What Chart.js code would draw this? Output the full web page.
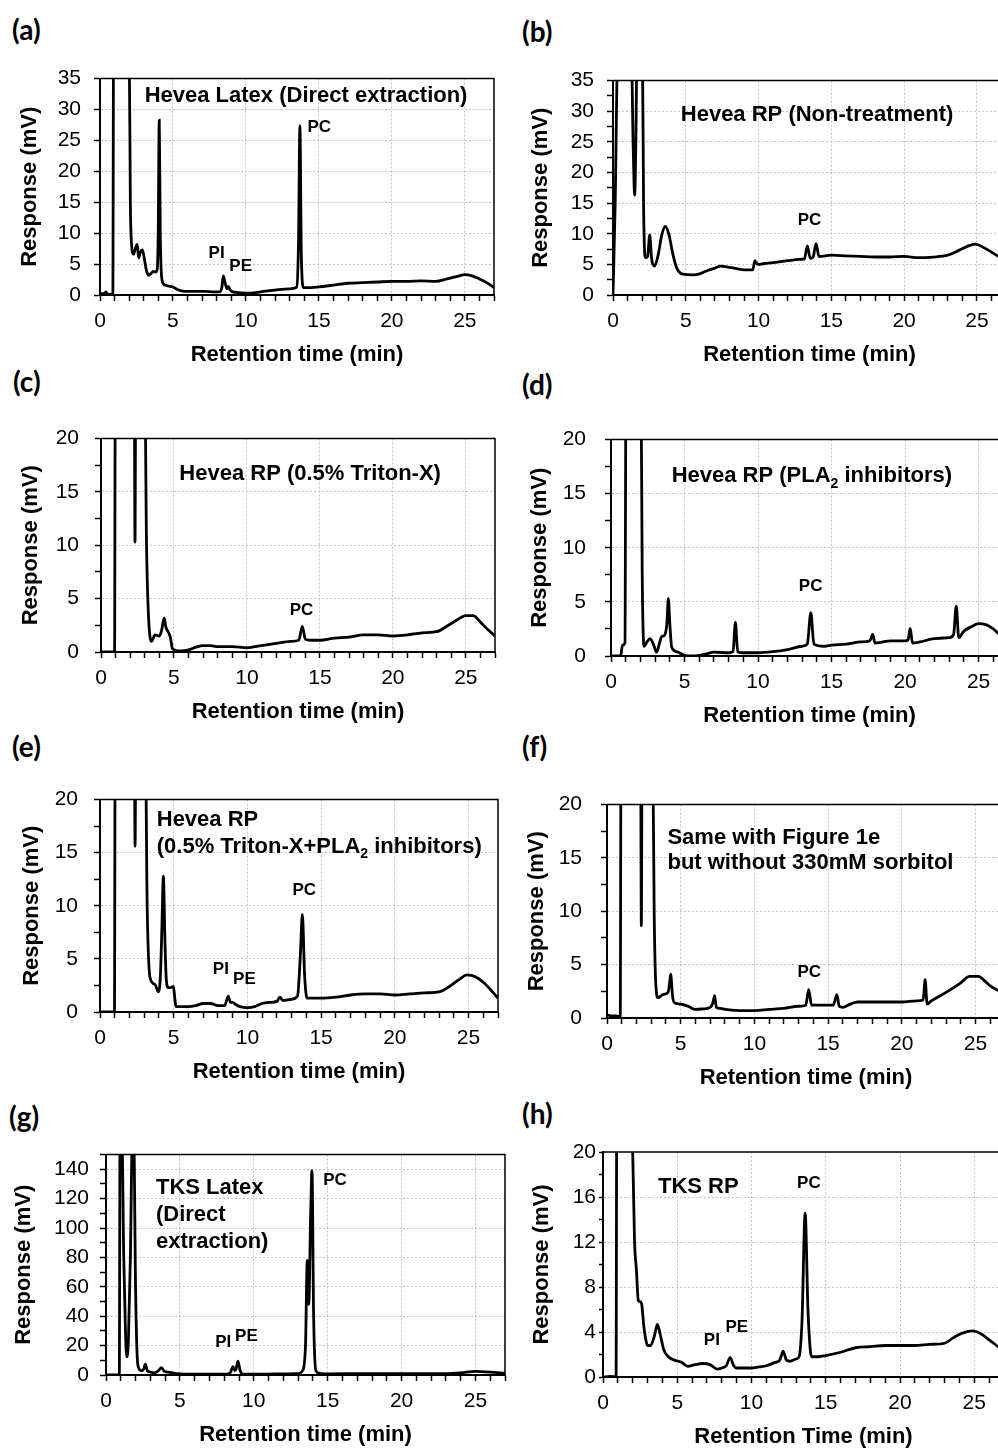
<!DOCTYPE html>
<html>
<head>
<meta charset="utf-8">
<title>Chromatograms</title>
<script src="https://cdn.jsdelivr.net/npm/chart.js@4.4.0/dist/chart.umd.min.js"></script>
<style>
  html, body { margin: 0; padding: 0; background: #fff; }
  body { width: 998px; height: 1448px; position: relative; overflow: hidden; }
  canvas { position: absolute; }
  .tag { position: absolute; font-family: Lato, 'Open Sans', sans-serif; font-weight: 700; font-size: 28px; line-height: 1; color: #000; }
</style>
</head>
<body>
<div class="tag" style="left:12px;top:15px">(a)</div>
<div class="tag" style="left:522px;top:17px">(b)</div>
<div class="tag" style="left:13px;top:367px">(c)</div>
<div class="tag" style="left:522px;top:370px">(d)</div>
<div class="tag" style="left:12px;top:732px">(e)</div>
<div class="tag" style="left:522px;top:732px">(f)</div>
<div class="tag" style="left:9px;top:1102px">(g)</div>
<div class="tag" style="left:522px;top:1099px">(h)</div>

<script>
// ---- data (retention time in min, response in mV) ----
const aTime = [0, 0.3, 0.4, 0.5, 0.88, 0.93, 2.0, 2.08, 2.17, 2.3, 2.42, 2.55, 2.65, 2.75, 2.9, 3.0, 3.1, 3.2, 3.35, 3.5, 3.65, 3.8, 3.92, 3.99, 4.06, 4.13, 4.22, 4.35, 4.6, 5.0, 5.3, 5.8, 6.5, 7.2, 7.8, 8.2, 8.35, 8.45, 8.55, 8.7, 8.8, 8.9, 9.1, 9.5, 10, 11, 12, 13, 13.45, 13.6, 13.7, 13.8, 13.95, 14.5, 15, 16, 17, 18, 19, 20, 21, 22, 23, 23.8, 24.5, 25, 25.5, 26, 26.5, 27];
const aResp = [0.2, 0.2, 0.5, 0.2, 0.1, 40, 40, 15, 8.0, 6.6, 7.5, 8.2, 6.0, 6.8, 7.3, 6.4, 5.0, 3.8, 3.2, 3.5, 3.8, 3.7, 4.2, 10, 28.3, 10, 3.0, 1.8, 1.5, 1.3, 0.9, 0.6, 0.6, 0.6, 0.5, 0.5, 1.2, 3.1, 2.2, 1.0, 1.4, 0.9, 0.5, 0.4, 0.3, 0.5, 0.8, 1.0, 1.2, 8, 27.4, 6, 1.2, 1.2, 1.3, 1.6, 1.9, 2.0, 2.1, 2.2, 2.2, 2.3, 2.2, 2.6, 3.0, 3.3, 3.1, 2.6, 2.0, 1.2];

const bTime = [0, 0.15, 0.33, 0.4, 1.26, 1.38, 1.49, 1.57, 1.65, 2.02, 2.1, 2.22, 2.38, 2.52, 2.65, 2.85, 3.1, 3.35, 3.6, 3.85, 4.1, 4.4, 4.8, 5.5, 6.0, 6.5, 7.0, 7.4, 7.8, 8.5, 9.0, 9.6, 9.75, 9.95, 10.3, 11, 12, 12.8, 13.15, 13.35, 13.55, 13.75, 13.95, 14.15, 15, 16, 17, 18, 19, 20, 21, 22, 23, 23.7, 24.3, 24.9, 25.5, 26, 26.5, 27];
const bResp = [0, 15, 40, 40, 40, 25, 16.3, 25, 40, 40, 15, 6.1, 6.3, 9.8, 6.0, 4.7, 6.5, 9.8, 11.2, 9.8, 6.8, 4.3, 3.4, 3.3, 3.5, 4.0, 4.4, 4.7, 4.6, 4.3, 4.1, 4.1, 5.6, 5.0, 5.1, 5.3, 5.6, 5.8, 5.9, 8.0, 6.0, 6.2, 8.4, 6.3, 6.5, 6.4, 6.3, 6.2, 6.2, 6.3, 6.1, 6.2, 6.5, 7.2, 7.9, 8.3, 7.7, 7.0, 6.3, 5.8];

const cTime = [0, 0.93, 0.98, 2.28, 2.33, 2.38, 3.0, 3.12, 3.25, 3.47, 3.7, 4.0, 4.15, 4.33, 4.45, 4.6, 4.75, 4.9, 5.5, 6.0, 6.5, 7.0, 7.5, 8.0, 9.0, 10, 11, 12, 13, 13.55, 13.8, 14.0, 14.5, 15, 16, 17, 18, 19, 20, 21, 22, 23, 23.8, 24.5, 25.0, 25.5, 26, 26.5, 27];
const cResp = [0, 0, 25, 25, 10.3, 25, 25, 10, 3.5, 1.0, 1.6, 1.5, 2.0, 3.2, 2.3, 1.9, 1.4, 0.3, 0.1, 0.2, 0.45, 0.6, 0.6, 0.5, 0.5, 0.4, 0.6, 0.8, 1.0, 1.1, 2.4, 1.2, 1.1, 1.1, 1.3, 1.4, 1.6, 1.6, 1.5, 1.6, 1.8, 1.9, 2.5, 3.1, 3.4, 3.4, 2.8, 2.1, 1.5];

const dTime = [0, 0.66, 0.78, 0.95, 1.02, 1.08, 2.04, 2.12, 2.25, 2.45, 2.65, 2.88, 3.1, 3.3, 3.45, 3.63, 3.8, 3.9, 4.0, 4.13, 4.47, 5.0, 5.5, 6.0, 6.5, 7.0, 8.0, 8.3, 8.46, 8.62, 9.0, 10, 11, 12, 13, 13.35, 13.59, 13.8, 14.5, 15, 16, 17, 17.6, 17.8, 17.95, 18.5, 19, 20, 20.2, 20.35, 20.5, 21, 22, 23, 23.3, 23.48, 23.65, 24, 24.5, 25, 25.5, 26, 26.5, 27];
const dResp = [0, 0, 1.0, 1.2, 25, 25, 25, 8, 0.9, 1.3, 1.6, 1.1, 0.35, 1.2, 1.8, 1.9, 3.0, 5.3, 3.0, 0.8, 0.4, 0.06, 0.0, 0.05, 0.2, 0.35, 0.3, 0.4, 3.1, 0.4, 0.3, 0.3, 0.4, 0.6, 0.9, 1.1, 4.0, 1.1, 0.9, 1.0, 1.1, 1.3, 1.4, 2.0, 1.2, 1.3, 1.4, 1.4, 1.5, 2.55, 1.2, 1.3, 1.6, 1.7, 2.0, 4.6, 1.7, 2.3, 2.7, 3.0, 2.9, 2.5, 1.9, 1.5];

const eTime = [0, 0.98, 1.03, 2.33, 2.38, 2.43, 3.08, 3.2, 3.4, 3.73, 3.96, 4.1, 4.2, 4.3, 4.4, 4.5, 4.64, 4.8, 4.98, 5.08, 5.16, 5.5, 6.0, 6.5, 7.0, 7.5, 8.0, 8.45, 8.7, 8.85, 9.0, 9.2, 9.5, 10, 10.5, 11, 11.5, 12.0, 12.2, 12.4, 13.0, 13.4, 13.58, 13.73, 13.88, 14.05, 14.5, 15, 16, 17, 18, 19, 20, 21, 22, 23, 23.8, 24.4, 24.9, 25.5, 26, 26.5, 27];
const eResp = [0, 0, 25, 25, 15.6, 25, 25, 10, 3.2, 2.6, 1.9, 3.5, 8, 12.8, 7, 3, 2.3, 2.3, 2.4, 1.2, 0.5, 0.5, 0.5, 0.6, 0.8, 0.8, 0.6, 0.6, 1.5, 0.9, 0.9, 0.7, 0.5, 0.4, 0.5, 0.8, 0.9, 1.0, 1.4, 1.1, 1.2, 1.5, 5, 9.2, 3.5, 1.3, 1.3, 1.3, 1.4, 1.6, 1.7, 1.7, 1.6, 1.7, 1.8, 1.9, 2.5, 3.1, 3.5, 3.3, 2.8, 2.1, 1.3];

const fTime = [0, 0.3, 0.6, 0.9, 0.95, 1.0, 2.28, 2.33, 2.38, 3.1, 3.2, 3.3, 3.46, 3.8, 4.14, 4.24, 4.32, 4.45, 4.6, 5.0, 5.5, 6.0, 6.5, 7.0, 7.18, 7.3, 7.42, 7.7, 8.0, 9.0, 10, 11, 12, 13, 13.48, 13.68, 13.88, 14.5, 15.35, 15.6, 15.75, 16.0, 16.5, 17, 18, 19, 20, 21, 21.45, 21.58, 21.72, 22.0, 23, 24, 24.6, 25.2, 25.6, 26, 26.5, 27];
const fResp = [0.3, 0.2, 0.2, 0.1, 25, 25, 25, 8.65, 25, 25, 10, 3.5, 1.9, 2.2, 2.4, 3.2, 4.1, 2.0, 1.4, 1.3, 1.1, 0.8, 0.85, 1.0, 1.4, 2.1, 1.0, 0.9, 0.8, 0.7, 0.7, 0.8, 0.9, 1.1, 1.2, 2.65, 1.2, 1.2, 1.2, 2.2, 1.1, 1.0, 1.3, 1.5, 1.5, 1.5, 1.5, 1.6, 1.7, 3.6, 1.3, 1.6, 2.4, 3.3, 3.9, 3.9, 3.5, 3.0, 2.6, 2.3];

const gTime = [0, 0.9, 0.95, 1.08, 1.2, 1.33, 1.42, 1.52, 1.65, 1.78, 1.88, 2.0, 2.1, 2.2, 2.4, 2.55, 2.66, 2.8, 3.0, 3.3, 3.55, 3.75, 3.95, 4.3, 4.8, 5.3, 6, 7, 8, 8.4, 8.6, 8.72, 8.8, 8.93, 9.08, 9.25, 10, 11, 12, 13, 13.3, 13.5, 13.62, 13.72, 13.85, 13.94, 14.05, 14.2, 14.5, 15, 17, 20, 23, 24, 25, 26, 27];
const gResp = [0, 0, 160, 160, 80, 25, 12.3, 25, 80, 160, 160, 60, 15, 5, 3, 4, 7.4, 3, 2, 1.5, 3, 5, 2.5, 1.8, 1.0, 0.6, 0.5, 0.5, 0.5, 1.5, 5.6, 3, 4, 9.4, 3, 0.6, 0.5, 0.6, 0.8, 1.0, 3, 20, 78, 48, 110, 139, 40, 3, 1.0, 0.8, 0.9, 1.0, 1.0, 1.5, 2.5, 2.0, 1.0];

const hTime = [0, 0.5, 0.88, 0.93, 1.0, 1.95, 2.0, 2.12, 2.25, 2.38, 2.5, 2.6, 2.75, 2.9, 3.0, 3.2, 3.45, 3.66, 3.85, 4.1, 4.4, 4.8, 5.3, 5.7, 6.2, 6.7, 7.2, 7.7, 8.0, 8.3, 8.56, 8.8, 9.0, 9.5, 10, 10.5, 11, 11.6, 11.9, 12.13, 12.35, 12.6, 13.0, 13.2, 13.4, 13.61, 13.8, 13.95, 14.05, 14.5, 15, 16, 17, 18, 19, 20, 21, 22, 23, 23.6, 24.2, 24.9, 25.5, 26, 26.5, 27];
const hResp = [0, 0.05, 0, 25, 25, 25, 20, 12.2, 9.5, 6.8, 6.7, 6.5, 4.5, 3.2, 2.8, 2.8, 3.6, 4.67, 3.8, 2.4, 1.8, 1.5, 1.3, 0.95, 1.1, 1.2, 1.1, 0.7, 0.8, 1.0, 1.72, 1.0, 0.8, 0.8, 0.8, 0.9, 1.0, 1.3, 1.5, 2.3, 1.5, 1.4, 1.6, 1.8, 5, 14.56, 6, 2.5, 1.8, 1.8, 1.9, 2.2, 2.6, 2.7, 2.8, 2.8, 2.8, 2.9, 3.0, 3.5, 3.9, 4.1, 3.8, 3.3, 2.8, 2.3];

// labels inside the plots: [text, time, response, align, kind]; {2} = subscript
const aNotes = [['Hevea Latex (Direct extraction)', 14.12, 31.2, 'center', 'big'], ['PC', 15.03, 26.3, 'center', 'small'], ['PI', 7.99, 6.04, 'center', 'small'], ['PE', 9.64, 3.83, 'center', 'small']];
const bNotes = [['Hevea RP (Non-treatment)', 14.02, 28.4, 'center', 'big'], ['PC', 13.5, 11.4, 'center', 'small']];
const cNotes = [['Hevea RP (0.5% Triton-X)', 14.33, 16.16, 'center', 'big'], ['PC', 13.74, 3.5, 'center', 'small']];
const dNotes = [['Hevea RP (PLA{2} inhibitors)', 13.66, 16.04, 'center', 'big'], ['PC', 13.58, 6.0, 'center', 'small']];
const eNotes = [['Hevea RP', 3.85, 17.5, 'left', 'big'], ['(0.5% Triton-X+PLA{2} inhibitors)', 3.85, 15.0, 'left', 'big'], ['PI', 8.2, 3.61, 'center', 'small'], ['PE', 9.8, 2.62, 'center', 'small'], ['PC', 13.86, 11.04, 'center', 'small']];
const fNotes = [['Same with Figure 1e', 4.1, 16.34, 'left', 'big'], ['but without 330mM sorbitol', 4.1, 13.95, 'left', 'big'], ['PC', 13.72, 3.84, 'center', 'small']];
const gNotes = [['TKS Latex', 3.38, 123.2, 'left', 'big'], ['(Direct', 3.38, 104.9, 'left', 'big'], ['extraction)', 3.38, 86.6, 'left', 'big'], ['PC', 15.5, 129.5, 'center', 'small'], ['PI', 7.93, 19, 'center', 'small'], ['PE', 9.5, 22.8, 'center', 'small']];
const hNotes = [['TKS RP', 3.7, 16.35, 'left', 'big'], ['PC', 13.86, 16.8, 'center', 'small'], ['PI', 7.33, 2.83, 'center', 'small'], ['PE', 9.01, 4.01, 'center', 'small']];

const xMax = 27;

// panel geometry on the page (plot area edges in px, px per minute)
const panels = [
  { time: aTime, resp: aResp, notes: aNotes, yMax: 35, yStep: 5,  yLabel: 5,  L: 100, T: 73,   B: 295,  ppm: 14.6,  gap: 69, yPad: 13, xTitle: 'Retention time (min)' },
  { time: bTime, resp: bResp, notes: bNotes, yMax: 35, yStep: 2.5, yLabel: 5, L: 613, T: 75,   B: 295,  ppm: 14.55, gap: 71, yPad: 13, xTitle: 'Retention time (min)' },
  { time: cTime, resp: cResp, notes: cNotes, yMax: 20, yStep: 2.5, yLabel: 5, L: 101, T: 430,  B: 652,  ppm: 14.6,  gap: 69, yPad: 16, xTitle: 'Retention time (min)' },
  { time: dTime, resp: dResp, notes: dNotes, yMax: 20, yStep: 2.5, yLabel: 5, L: 611, T: 428,  B: 656,  ppm: 14.69, gap: 70, yPad: 19, xTitle: 'Retention time (min)' },
  { time: eTime, resp: eResp, notes: eNotes, yMax: 20, yStep: 2.5, yLabel: 5, L: 100, T: 791,  B: 1012, ppm: 14.73, gap: 67, yPad: 16, xTitle: 'Retention time (min)' },
  { time: fTime, resp: fResp, notes: fNotes, yMax: 20, yStep: 2.5, yLabel: 5, L: 607, T: 793,  B: 1018, ppm: 14.75, gap: 69, yPad: 19, xTitle: 'Retention time (min)' },
  { time: gTime, resp: gResp, notes: gNotes, yMax: 150, yStep: 10, yLabel: 20, L: 106, T: 1151, B: 1375, ppm: 14.77, gap: 81, yPad: 11, xTitle: 'Retention time (min)' },
  { time: hTime, resp: hResp, notes: hNotes, yMax: 20, yStep: 2,  yLabel: 4,  L: 603, T: 1152, B: 1377, ppm: 14.84, gap: 60, yPad: 3, xTitle: 'Retention Time (min)' }
];

const FONT = "'Liberation Sans', Arial, sans-serif";
Chart.defaults.font.family = FONT;
Chart.defaults.color = '#000';

const Y_W = 100, PAD_T = 20, PAD_R = 12, X_H = 75;

// top and right frame of the plot area
const boxPlugin = {
  id: 'box',
  afterDatasetsDraw(chart) {
    const { ctx, chartArea: a } = chart;
    ctx.save();
    ctx.strokeStyle = '#000';
    ctx.lineWidth = 1.5;
    ctx.beginPath();
    ctx.moveTo(a.left, a.top);
    ctx.lineTo(a.right, a.top);
    ctx.lineTo(a.right, a.bottom);
    ctx.stroke();
    ctx.restore();
  }
};

function notesPlugin(notes) {
  return {
    id: 'notes',
    afterDatasetsDraw(chart) {
      const { ctx, scales } = chart;
      ctx.save();
      ctx.fillStyle = '#000';
      ctx.textBaseline = 'alphabetic';
      ctx.textAlign = 'left';
      notes.forEach(([text, t, v, align, kind]) => {
        const size = kind === 'big' ? 22 : 17;
        const x = scales.x.getPixelForValue(t);
        const y = scales.y.getPixelForValue(v);
        const parts = text.split(/\{(\d)\}/);
        const fontFor = i => `bold ${i % 2 ? Math.round(size * 0.65) : size}px ${FONT}`;
        const widths = parts.map((p, i) => { ctx.font = fontFor(i); return ctx.measureText(p).width; });
        const total = widths.reduce((s, w) => s + w, 0);
        let cx = align === 'center' ? x - total / 2 : x;
        parts.forEach((p, i) => {
          ctx.font = fontFor(i);
          ctx.fillText(p, cx, i % 2 ? y + size * 0.25 : y);
          cx += widths[i];
        });
      });
      ctx.restore();
    }
  };
}

panels.forEach(p => {
  const canvas = document.createElement('canvas');
  const plotW = Math.round(xMax * p.ppm);
  canvas.width = Y_W + plotW + PAD_R;
  canvas.height = PAD_T + (p.B - p.T) + X_H;
  canvas.style.left = (p.L - Y_W) + 'px';
  canvas.style.top = (p.T - PAD_T) + 'px';
  document.body.appendChild(canvas);

  const points = p.time.map((t, i) => ({ x: t, y: p.resp[i] }));

  new Chart(canvas.getContext('2d'), {
    type: 'line',
    data: {
      datasets: [{
        data: points,
        borderColor: '#000',
        borderWidth: 2.8,
        pointRadius: 0,
        cubicInterpolationMode: 'monotone',
        fill: false
      }]
    },
    options: {
      responsive: false,
      animation: false,
      devicePixelRatio: 1,
      events: [],
      layout: { padding: { left: 0, top: PAD_T, right: PAD_R, bottom: 0 } },
      plugins: { legend: { display: false }, tooltip: { enabled: false } },
      scales: {
        x: {
          type: 'linear',
          min: 0,
          max: xMax,
          afterFit: s => { s.height = X_H; },
          ticks: {
            stepSize: 1,
            autoSkip: false,
            maxRotation: 0,
            padding: 8,
            font: { size: 21 },
            callback: v => (v % 5 === 0 ? v : '')
          },
          grid: {
            color: c => (c.tick && c.tick.value % 5 === 0 && c.tick.value > 0 && c.tick.value < xMax) ? '#c4c4c4' : 'rgba(0,0,0,0)',
            lineWidth: 1,
            tickColor: '#000',
            tickLength: 6,
            tickWidth: 1.5
          },
          border: { color: '#000', width: 2, dash: [2, 2] },
          title: {
            display: true,
            text: p.xTitle,
            font: { size: 22, weight: 'bold' },
            padding: { top: 0, bottom: 2 }
          }
        },
        y: {
          type: 'linear',
          min: 0,
          max: p.yMax,
          afterFit: s => { s.width = Y_W; },
          ticks: {
            stepSize: p.yStep,
            autoSkip: false,
            padding: p.yPad,
            font: { size: 21 },
            callback: v => (v % p.yLabel === 0 ? v : '')
          },
          grid: {
            color: c => (c.tick && c.tick.value % p.yLabel === 0 && c.tick.value > 0 && c.tick.value < p.yMax) ? '#c4c4c4' : 'rgba(0,0,0,0)',
            lineWidth: 1,
            tickColor: '#000',
            tickLength: p.yPad < 5 ? 4 : 6,
            tickWidth: 1.5
          },
          border: { color: '#000', width: 2, dash: [2, 2] },
          title: {
            display: true,
            text: 'Response (mV)',
            font: { size: 22, weight: 'bold' },
            padding: { top: Y_W - 13.2 - p.gap - 1, bottom: 0 }
          }
        }
      }
    },
    plugins: [boxPlugin, notesPlugin(p.notes)]
  });
});
</script>
</body>
</html>
